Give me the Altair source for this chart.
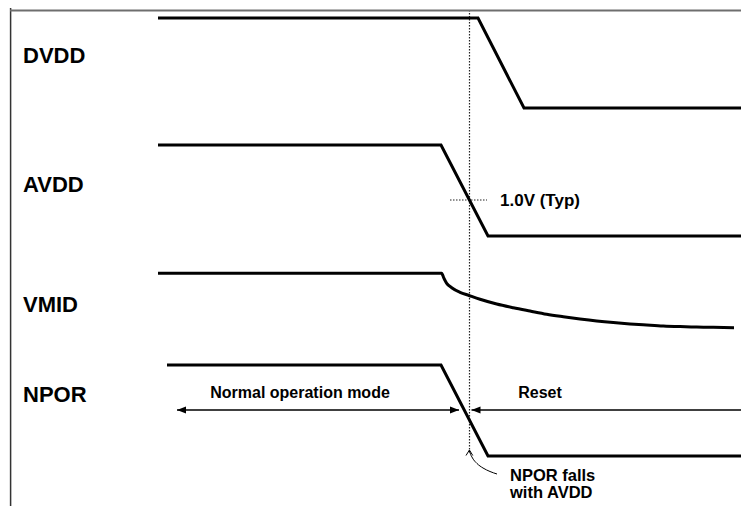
import altair as alt
import pandas as pd

# ---- waveform data (diagram time units on x, diagram level rows on y; y grows downward) ----
dvdd_t = [158, 478, 524, 745]
dvdd_y = [18, 18, 108, 108]

avdd_t = [158, 441, 488, 745]
avdd_y = [145, 145, 236, 236]

vmid_t = [158, 441.7, 442.5, 443.3, 444.8, 446.7, 451.7, 460, 469, 480, 496.7, 513.3, 530, 546.7,
          563.3, 580, 596.7, 613.3, 630, 646.7, 663.3, 680, 696.7, 713.3, 734]
vmid_y = [273.3, 273.3, 274.6, 276.7, 280, 283.3, 287.7, 292.3, 295.5, 299.3, 304, 307.7, 311, 314.2,
          316.7, 319, 321, 322.6, 323.9, 325, 326, 326.6, 327, 327.3, 327.7]

npor_t = [167, 441, 488, 745]
npor_y = [365, 365, 456, 456]

signal_names = ["DVDD", "AVDD", "VMID", "NPOR"]
signal_label_y = [63, 192, 311.5, 402]

# reference markers
vref_t = [469.5]
vref_y = [10, 453]
level_t = [450, 487]
level_y = [200]

# timing arrows (mode spans)
mode_names = ["Normal operation mode", "Reset"]
mode_start = [177, 471.5]
mode_end = [459, 749]
mode_y = 410
mode_label_t = [300, 540]
mode_label_y = 398

# annotation curve
note_t = [497, 490, 483, 477, 472.5, 470, 469.5]
note_y = [474, 471.5, 468, 463.5, 458, 452.5, 450.5]
note_head_t = [466, 469.4, 472.8]
note_head_y = [455.5, 450, 455.5]
note_lines = ["NPOR falls", "with AVDD"]
note_line_y = [481, 498]
note_x = 510

# frame
frame_top_t = [10, 741]
frame_top_y = [10.5]
frame_left_y = [8, 506]

FONT = "Liberation Sans"
W, H = 733, 498
xs = alt.Scale(domain=[8, 8 + W], range=[0, W], nice=False, zero=False)
ys = alt.Scale(domain=[8, 8 + H], range=[0, H], nice=False, zero=False)

def X(f):
    return alt.X(f, type="quantitative", scale=xs, axis=None)

def Y(f):
    return alt.Y(f, type="quantitative", scale=ys, axis=None)

# waveforms table
rows = []
for name, ts, yv in zip(["DVDD", "AVDD", "NPOR"], [dvdd_t, avdd_t, npor_t], [dvdd_y, avdd_y, npor_y]):
    for i, (t, y) in enumerate(zip(ts, yv)):
        rows.append({"sig": name, "t": t, "y": y, "o": i})
waves = pd.DataFrame(rows)
vmid = pd.DataFrame({"t": vmid_t, "y": vmid_y, "o": list(range(len(vmid_t)))})

wave_layer = alt.Chart(waves).mark_line(color="black", strokeWidth=3, strokeJoin="miter", clip=True).encode(
    x=X("t"), y=Y("y"), detail="sig:N", order="o:Q"
)
vmid_layer = alt.Chart(vmid).mark_line(color="black", strokeWidth=3, interpolate="monotone").encode(
    x=X("t"), y=Y("y"), order="o:Q"
)

# frame lines
frame_top = alt.Chart(pd.DataFrame({"edge": ["top"], "t": [frame_top_t[0]], "t2": [frame_top_t[1]], "fy": frame_top_y})).mark_rule(
    color="#6e6e6e", strokeWidth=1.8
).encode(x=X("t"), x2="t2:Q", y=Y("fy"))
frame_left = alt.Chart(pd.DataFrame({"edge": ["left"], "fx": [10.6], "fy": [frame_left_y[0]], "fy2": [frame_left_y[1]]})).mark_rule(
    color="#333333", strokeWidth=1.5
).encode(x=X("fx"), y=Y("fy"), y2="fy2:Q")

# dotted references
vref = alt.Chart(pd.DataFrame({"t": vref_t, "y": [vref_y[0]], "y2": [vref_y[1]]})).mark_rule(
    color="#222222", strokeWidth=1.2, strokeDash=[1.5, 1.5]
).encode(x=X("t"), y=Y("y"), y2="y2:Q")
level = alt.Chart(pd.DataFrame({"t": [level_t[0]], "t2": [level_t[1]], "y": level_y})).mark_rule(
    color="#222222", strokeWidth=1.2, strokeDash=[1.5, 1.5]
).encode(x=X("t"), x2="t2:Q", y=Y("y"))

# arrows
shafts = alt.Chart(pd.DataFrame({"t": mode_start, "t2": mode_end, "y": [mode_y, mode_y]})).mark_rule(
    color="black", strokeWidth=1.4, clip=True
).encode(x=X("t"), x2="t2:Q", y=Y("y"))

LEFT_HEAD = "M -1 0 L 1 -0.8 L 1 0.8 Z"
RIGHT_HEAD = "M 1 0 L -1 -0.8 L -1 0.8 Z"
head_len = 4.5
left_heads = alt.Chart(pd.DataFrame({"t": [mode_start[0] + head_len, mode_start[1] + head_len], "y": [mode_y, mode_y]})).mark_point(
    shape=LEFT_HEAD, filled=True, color="black", size=81, opacity=1, strokeWidth=0
).encode(x=X("t"), y=Y("y"))
right_heads = alt.Chart(pd.DataFrame({"t": [mode_end[0] - head_len], "y": [mode_y]})).mark_point(
    shape=RIGHT_HEAD, filled=True, color="black", size=81, opacity=1, strokeWidth=0
).encode(x=X("t"), y=Y("y"))

# annotation curve + head
note_curve = alt.Chart(pd.DataFrame({"t": note_t, "y": note_y, "o": list(range(len(note_t)))})).mark_line(
    color="black", strokeWidth=1, interpolate="monotone"
).encode(x=X("t"), y=Y("y"), order="o:Q")
note_head = alt.Chart(pd.DataFrame({"t": note_head_t, "y": note_head_y, "o": [0, 1, 2]})).mark_line(
    color="black", strokeWidth=1
).encode(x=X("t"), y=Y("y"), order="o:Q")

# texts
sig_text = alt.Chart(pd.DataFrame({"txt": signal_names, "t": [23] * 4, "y": signal_label_y})).mark_text(
    font=FONT, fontWeight="bold", fontSize=22, align="left", baseline="alphabetic", color="black"
).encode(x=X("t"), y=Y("y"), text="txt:N")

mode_text = alt.Chart(pd.DataFrame({"txt": mode_names, "t": mode_label_t, "y": [mode_label_y] * 2})).mark_text(
    font=FONT, fontWeight="bold", fontSize=16, align="center", baseline="alphabetic", color="black"
).encode(x=X("t"), y=Y("y"), text="txt:N")

level_text = alt.Chart(pd.DataFrame({"txt": ["1.0V (Typ)"], "t": [500], "y": [205.5]})).mark_text(
    font=FONT, fontWeight="bold", fontSize=17, align="left", baseline="alphabetic", color="black"
).encode(x=X("t"), y=Y("y"), text="txt:N")

note_text = alt.Chart(pd.DataFrame({"txt": note_lines, "t": [note_x] * 2, "y": note_line_y})).mark_text(
    font=FONT, fontWeight="bold", fontSize=16.5, align="left", baseline="alphabetic", color="black"
).encode(x=X("t"), y=Y("y"), text="txt:N")

chart = alt.layer(
    vref, level, shafts, left_heads, right_heads,
    note_curve, note_head, wave_layer, vmid_layer, sig_text, mode_text, level_text, note_text,
    frame_left, frame_top
).properties(
    width=W, height=H, padding=0, background="white",
    autosize=alt.AutoSizeParams(type="none")
).configure_view(stroke=None)

chart.save("out.html", embed_options={"renderer": "svg", "actions": False})
